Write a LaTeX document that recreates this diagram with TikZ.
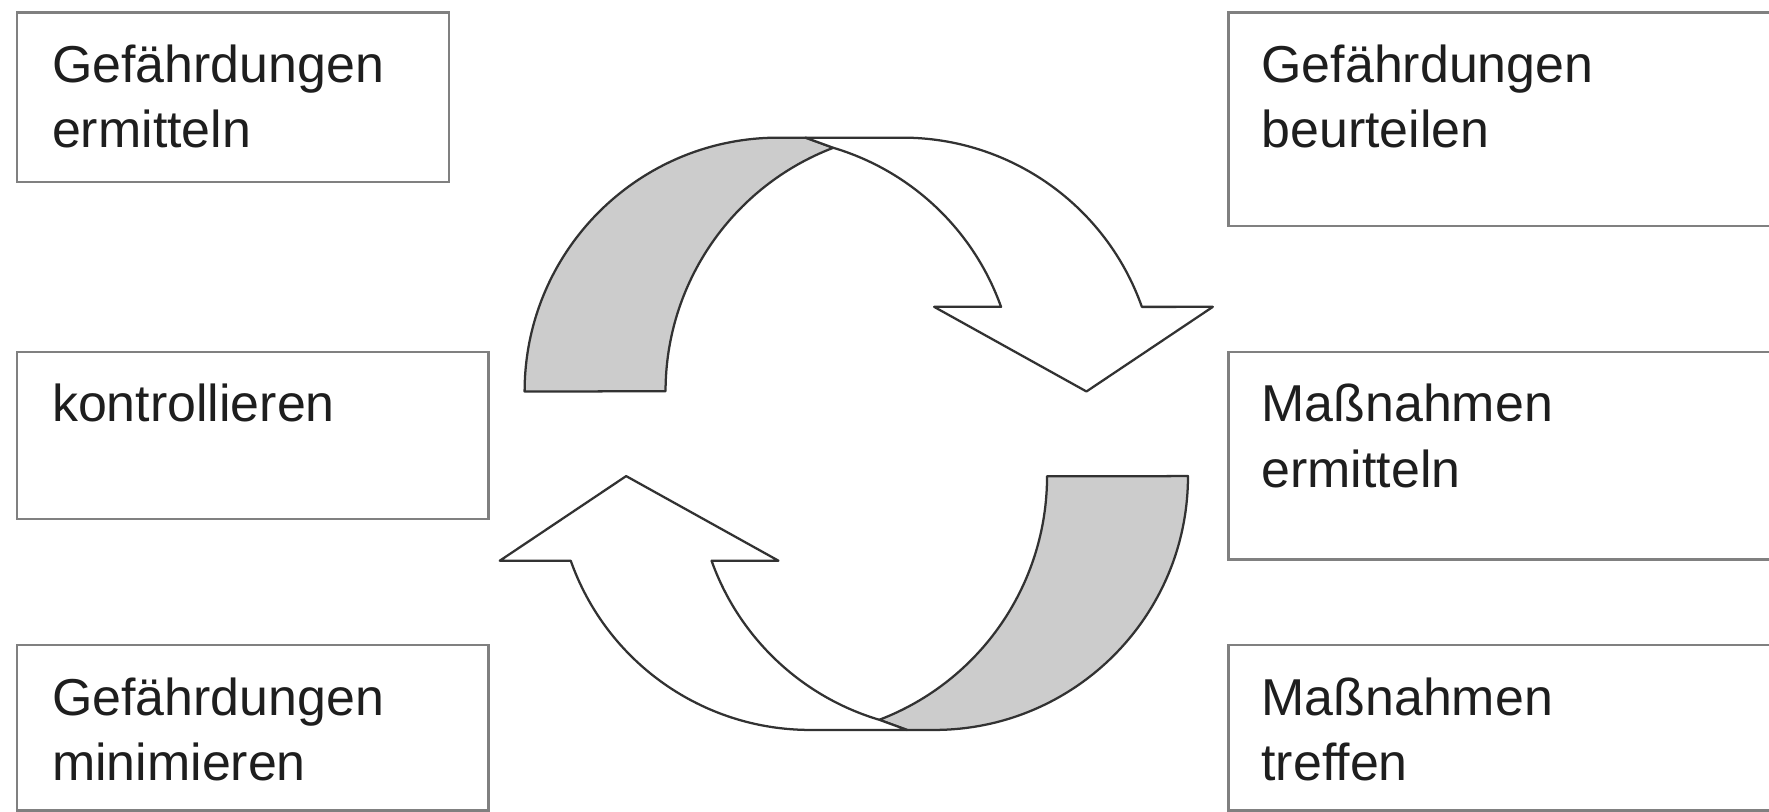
\documentclass[tikz,border=0pt]{standalone}
\usepackage{fontspec}
\setmainfont{Liberation Sans}
\definecolor{boxgray}{RGB}{128,128,128}
\definecolor{linegray}{RGB}{50,50,50}
\definecolor{fillgray}{RGB}{204,204,204}
\definecolor{txt}{RGB}{30,30,30}
\tikzset{
  boxst/.style={draw=boxgray, line width=2pt, rectangle, anchor=north west, inner sep=0pt},
  lbl/.style={anchor=base west, inner sep=0pt, text=txt, font=\fontsize{46}{58}\selectfont},
  band/.style={draw=linegray, line width=2pt, line join=round},
}
\newcommand\myribbon{%
  \filldraw[band, fill=fillgray] (465,347) arc[start angle=180, end angle=270, radius=225]
     -- (714,122) -- (738.6,131) arc[start angle=249.12, end angle=180, radius=231] -- cycle;
  \filldraw[band, fill=white] (738.6,131) -- (714,122) -- (800,122)
     arc[start angle=270, end angle=340.53, radius=225]
     -- (1075,272) -- (963,347) -- (828,272) -- (887.3,272)
     arc[start angle=340.39, end angle=286.58, radius=226.4] -- cycle;
}
\begin{document}
\begin{tikzpicture}[x=1pt,y=-1pt]
\useasboundingbox (0,0) rectangle (1568,719);
\clip (0,0) rectangle (1568,719);
\fill[white] (0,0) rectangle (1568,719);
% boxes
\node[boxst, minimum width=383pt, minimum height=150pt] (b1) at (14,10) {};
\node[boxst, minimum width=520pt, minimum height=189pt] (b2) at (1088,10) {};
\node[boxst, minimum width=418pt, minimum height=148pt] (b3) at (14,311) {};
\node[boxst, minimum width=520pt, minimum height=184pt] (b4) at (1088,311) {};
\node[boxst, minimum width=418pt, minimum height=146.5pt] (b5) at (14,571) {};
\node[boxst, minimum width=520pt, minimum height=146.5pt] (b6) at (1088,571) {};
% labels
\node[lbl] (t1) at ([shift={(32,63)}]b1.north west) {\vtop{\hbox{Gefährdungen}\hbox{ermitteln}}};
\node[lbl] (t2) at ([shift={(30,63)}]b2.north west) {\vtop{\hbox{Gefährdungen}\hbox{beurteilen}}};
\node[lbl] (t3) at ([shift={(32,63)}]b3.north west) {\vtop{\hbox{kontrollieren}}};
\node[lbl] (t4) at ([shift={(30,63)}]b4.north west) {\vtop{\hbox{Maßnahmen}\hbox{ermitteln}}};
\node[lbl] (t5) at ([shift={(32,63)}]b5.north west) {\vtop{\hbox{Gefährdungen}\hbox{minimieren}}};
\node[lbl] (t6) at ([shift={(30,63)}]b6.north west) {\vtop{\hbox{Maßnahmen}\hbox{treffen}}};
% circular arrows
\begin{scope}
  \myribbon
\end{scope}
\begin{scope}[rotate around={180:(759,384.5)}]
  \myribbon
\end{scope}
\end{tikzpicture}
\end{document}
